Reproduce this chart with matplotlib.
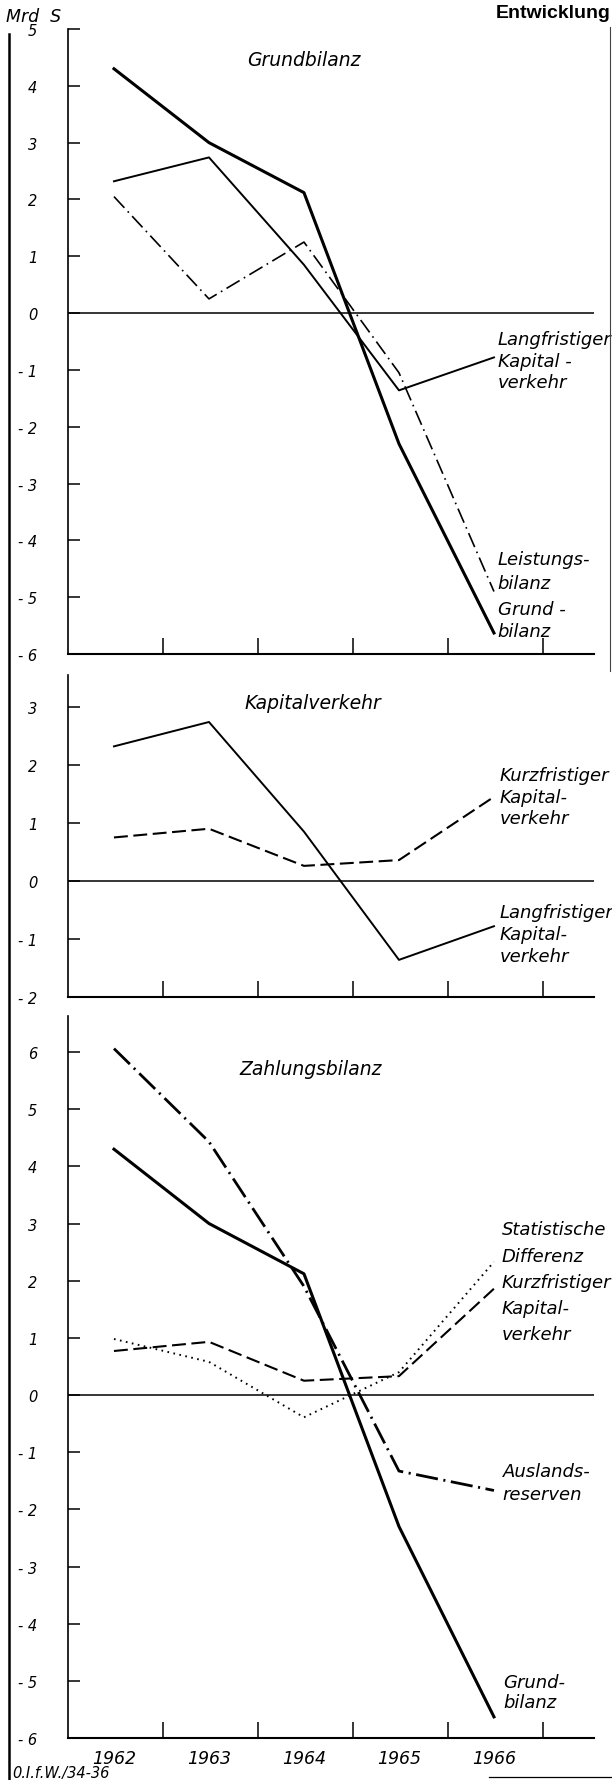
import matplotlib
matplotlib.use("Agg")
import matplotlib.pyplot as plt
from matplotlib.lines import Line2D

plt.rcParams['lines.scale_dashes'] = False
plt.rcParams['font.family'] = ['DejaVu Sans']

# ---------------- data (Mrd S) ----------------
years = [1962, 1963, 1964, 1965, 1966]
year_labels = ['1962', '1963', '1964', '1965', '1966']

grundbilanz = [4.30, 3.0, 2.12, -2.30, -5.63]
leistungsbilanz = [2.05, 0.25, 1.25, -1.05, -4.9]
langfristiger_kv = [2.32, 2.74, 0.85, -1.36, -0.78]
kurzfristiger_kv_p2 = [0.75, 0.90, 0.26, 0.36, 1.45]
kurzfristiger_kv_p3 = [0.77, 0.93, 0.25, 0.33, 1.86]
stat_differenz = [0.98, 0.58, -0.39, 0.40, 2.33]
auslandsreserven = [6.06, 4.43, 1.90, -1.33, -1.67]

p1_yticks = [5, 4, 3, 2, 1, 0, -1, -2, -3, -4, -5, -6]
p2_yticks = [3, 2, 1, 0, -1, -2]
p3_yticks = [6, 5, 4, 3, 2, 1, 0, -1, -2, -3, -4, -5, -6]

titles = ['Grundbilanz', 'Kapitalverkehr', 'Zahlungsbilanz']

# ---------------- figure ----------------
W, H = 612, 1781
fig = plt.figure(figsize=(W / 100, H / 100), dpi=100)


def fx(px):
    return px / W


def fy(py):
    return 1 - py / H


left_px, right_px = 68, 594
xlim = (1961.516, 1967.053)


def make_axes(top_px, bottom_px, ylim, yticks, show_years):
    ax = fig.add_axes([fx(left_px), fy(bottom_px), fx(right_px - left_px),
                       (bottom_px - top_px) / H])
    ax.set_xlim(*xlim)
    ax.set_ylim(*ylim)
    for s in ('top', 'right'):
        ax.spines[s].set_visible(False)
    ax.spines['left'].set_linewidth(1.2)
    ax.spines['bottom'].set_linewidth(1.5)
    ax.set_yticks(yticks)
    ax.set_yticklabels([str(v) if v >= 0 else '- %d' % (-v) for v in yticks])
    ax.tick_params(axis='y', direction='in', length=8.6, width=1.1, pad=22,
                   labelsize=10.5)
    for lb in ax.get_yticklabels():
        lb.set_style('italic')
    ax.set_xticks(years)
    ax.set_xticks([y + 0.52 for y in years], minor=True)
    ax.tick_params(axis='x', which='major', length=0, pad=8, labelsize=12.5)
    ax.tick_params(axis='x', which='minor', direction='in', length=11.5,
                   width=1.1)
    if show_years:
        ax.set_xticklabels(year_labels)
        for lb in ax.get_xticklabels():
            lb.set_style('italic')
    else:
        ax.set_xticklabels([])
    ax.axhline(0, color='black', lw=1.1, zorder=1)
    ax.patch.set_visible(False)
    return ax


ax1 = make_axes(30, 655, (-6, 5), p1_yticks, False)
ax2 = make_axes(676, 998, (-2, 3.55), p2_yticks, False)
ax3 = make_axes(1017, 1739, (-6, 6.63), p3_yticks, True)

st_grund = dict(color='black', lw=2.2, solid_joinstyle='round')
st_lang = dict(color='black', lw=1.4)
st_leist = dict(color='black', lw=1.2, dashes=(11, 3.5, 1.2, 3.5))
st_kurz = dict(color='black', lw=1.5, dashes=(10, 4))
st_stat = dict(color='black', lw=1.4, dashes=(1.2, 3.2))
st_ausl = dict(color='black', lw=2.0, dashes=(16, 4, 1.5, 4))

# Panel 1
ax1.plot(years, leistungsbilanz, **st_leist)
ax1.plot(years, langfristiger_kv, **st_lang)
ax1.plot(years, grundbilanz, **st_grund)
# Panel 2
ax2.plot(years, langfristiger_kv, **st_lang)
ax2.plot(years, kurzfristiger_kv_p2, **st_kurz)
# Panel 3
ax3.plot(years, stat_differenz, **st_stat)
ax3.plot(years, kurzfristiger_kv_p3, **st_kurz)
ax3.plot(years, auslandsreserven, **st_ausl)
ax3.plot(years, grundbilanz, **st_grund)

# titles
ax1.text(1964.0, 4.47, titles[0], style='italic', fontsize=13.5,
         ha='center', va='center')
ax2.text(1964.09, 3.08, titles[1], style='italic', fontsize=13.5,
         ha='center', va='center')
ax3.text(1964.07, 5.72, titles[2], style='italic', fontsize=13.5,
         ha='center', va='center')


def block(ax, x, y, lines, step_px):
    n = len(lines)
    for i, s in enumerate(lines):
        off = ((n - 1) / 2 - i) * step_px * 0.72
        ax.annotate(s, (x, y), xytext=(0, off), textcoords='offset points',
                    ha='left', va='center', fontsize=13, style='italic',
                    annotation_clip=False)


block(ax1, 1966.04, -0.84, ['Langfristiger', 'Kapital -', 'verkehr'], 21.5)
block(ax1, 1966.04, -4.54, ['Leistungs-', 'bilanz'], 24)
block(ax1, 1966.04, -5.40, ['Grund -', 'bilanz'], 22)

block(ax2, 1966.06, 1.45, ['Kurzfristiger', 'Kapital-', 'verkehr'], 21.5)
block(ax2, 1966.06, -0.91, ['Langfristiger', 'Kapital-', 'verkehr'], 22)

block(ax3, 1966.08, 2.67, ['Statistische', 'Differenz'], 27)
block(ax3, 1966.08, 1.52, ['Kurzfristiger', 'Kapital-', 'verkehr'], 26)
block(ax3, 1966.09, -1.53, ['Auslands-', 'reserven'], 23)
block(ax3, 1966.10, -5.20, ['Grund-', 'bilanz'], 20)

# page texts
fig.text(fx(6), fy(17.5), 'Mrd  S', style='italic', fontsize=12.5,
         ha='left', va='center')
fig.text(fx(611), fy(18), 'Entwicklung', family='Liberation Sans',
         fontweight='bold', fontsize=14, ha='right', va='baseline')
fig.text(fx(12), fy(1774), '0.I.f.W./34-36', style='italic', fontsize=10.5,
         ha='left', va='center')

# page border lines from the scan
fig.add_artist(Line2D([fx(9), fx(9)], [fy(35), fy(1781)], color='black',
                      lw=1.8))
fig.add_artist(Line2D([fx(610), fx(610)], [fy(28), fy(672)], color='#444444',
                      lw=0.8))
fig.add_artist(Line2D([fx(489), fx(612)], [fy(1778), fy(1778)],
                      color='black', lw=0.9))

fig.savefig('out.png', dpi=100)
